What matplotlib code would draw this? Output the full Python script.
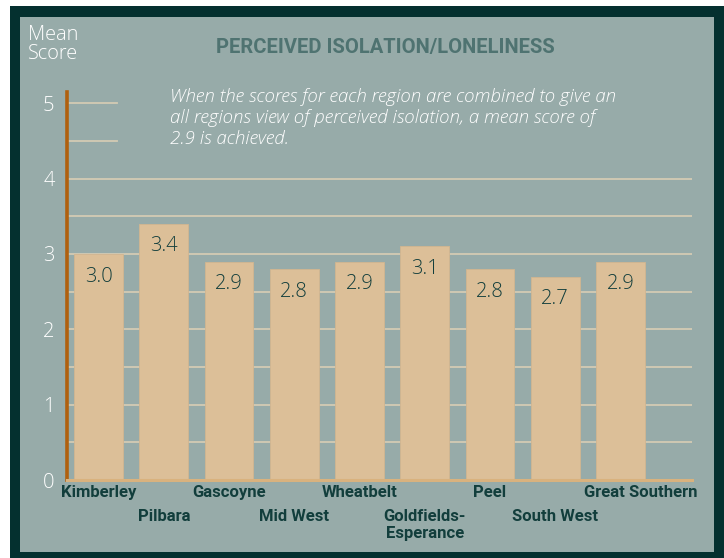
import matplotlib.pyplot as plt
from matplotlib.patches import Rectangle

# data
regions = ['Kimberley', 'Pilbara', 'Gascoyne', 'Mid West', 'Wheatbelt',
           'Goldfields-\nEsperance', 'Peel', 'South West', 'Great Southern']
scores = [3.0, 3.4, 2.9, 2.8, 2.9, 3.1, 2.8, 2.7, 2.9]
yticks = [0, 1, 2, 3, 4, 5]

BORDER = '#04302f'
PANEL = '#97aba9'
BAR = '#dcbf98'
GRID = '#d3cbb3'
DARK = '#123e3c'
LIGHT = ['Open Sans', 'DejaVu Sans']
NARROW = ['Liberation Sans Narrow', 'Roboto', 'DejaVu Sans']

W, H = 724, 558


def fx(px):
    return px / W


def fy(py):
    return 1 - py / H


fig = plt.figure(figsize=(W / 100, H / 100), dpi=100, facecolor='white')
fig.patches.append(Rectangle((fx(10), 0), 1 - fx(10), fy(6), transform=fig.transFigure,
                             facecolor=BORDER, edgecolor='none', zorder=-2))
fig.patches.append(Rectangle((fx(20), fy(552)), fx(714 - 20), (552 - 17) / H,
                             transform=fig.transFigure, facecolor=PANEL,
                             edgecolor='none', zorder=-1))

ax = fig.add_axes([fx(67), fy(480), fx(692 - 67), (480 - 92) / H])
ax.set_zorder(2)
ax.set_facecolor('none')
ax.set_xlim(-0.483, 9.096)
ax.set_ylim(0, 5.15)

# gridlines every 0.5, short ones at the top under the note
for g in [0.5, 1, 1.5, 2, 2.5, 3, 3.5, 4, 4.5, 5]:
    xmax = 0.08 if g > 4 else 1.0
    ax.axhline(g, xmin=0, xmax=xmax, color=GRID, lw=1.3, zorder=1)

x = list(range(len(regions)))
ax.bar(x, scores, width=0.75, color=BAR, edgecolor='#d2b690', linewidth=0.6, zorder=2)

for i, v in enumerate(scores):
    ax.text(i, v - 0.3, f'{v:.1f}', ha='center', va='center', fontsize=14.5,
            fontweight='light', color=DARK, family=LIGHT, zorder=3)

# staggered category labels (last one sits a little right of its bar)
for i, name in enumerate(regions):
    off = -5 if i % 2 == 0 else -29
    dx = 20 if name == 'Great Southern' else 0
    ax.annotate(name, xy=(i, 0), xytext=(dx, off), textcoords='offset pixels',
                ha='center', va='top', fontsize=12, fontweight='bold', color=DARK,
                family=NARROW, linespacing=1.15, annotation_clip=False)

for s in ['top', 'right']:
    ax.spines[s].set_visible(False)
ax.spines['left'].set_color('#b0600e')
ax.spines['left'].set_linewidth(2.6)
ax.spines['bottom'].set_color('#d9b27e')
ax.spines['bottom'].set_linewidth(2.2)
ax.set_xticks([])
ax.set_yticks(yticks)
ax.set_yticklabels([str(t) for t in yticks], fontsize=14.5, color='white',
                   family=LIGHT, fontweight='light')
ax.tick_params(axis='y', length=0, pad=9)

fig.text(fx(28), fy(25), 'Mean\nScore', ha='left', va='top', fontsize=14.3,
         fontweight='light', color='white', family=LIGHT, linespacing=0.95)
fig.text(fx(385), fy(47), 'PERCEIVED ISOLATION/LONELINESS', ha='center', va='center',
         fontsize=14.5, fontweight='bold', color='#4f7371', family=NARROW)
fig.text(fx(170), fy(88),
         'When the scores for each region are combined to give an\n'
         'all regions view of perceived isolation, a mean score of\n'
         '2.9 is achieved.',
         ha='left', va='top', fontsize=13.4, style='italic', fontweight='light',
         color='white', family=LIGHT, linespacing=1.22)

fig.savefig('out.png', dpi=100, facecolor='white')
